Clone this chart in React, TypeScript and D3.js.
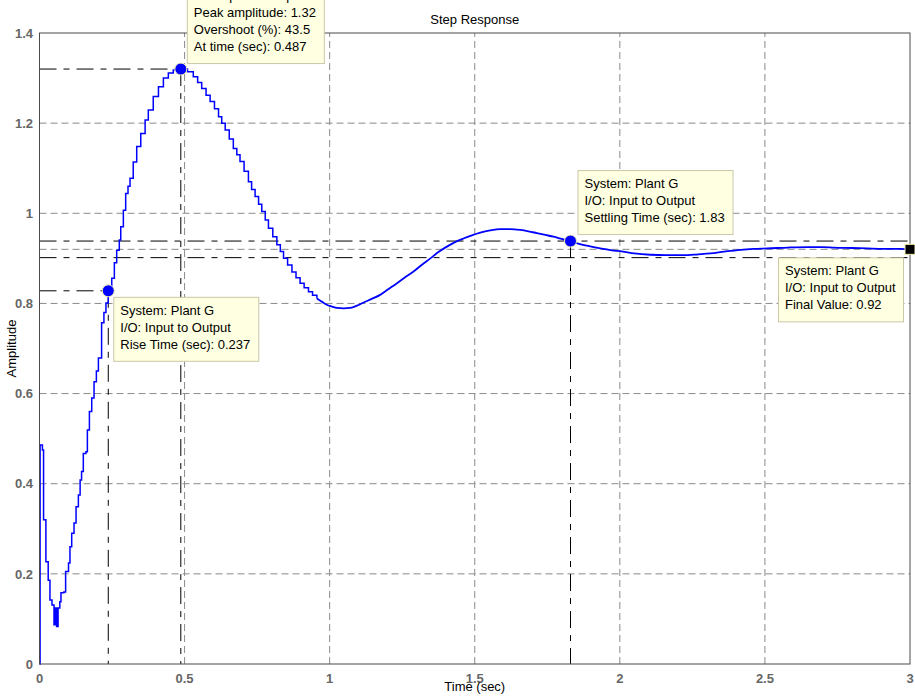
import React, { useEffect, useRef } from "react";
import * as d3 from "d3";

const W = 915;
const H = 697;

const xTicks = [0, 0.5, 1, 1.5, 2, 2.5, 3];
const xTickLabels = ["0", "0.5", "1", "1.5", "2", "2.5", "3"];
const yTicks = [0, 0.2, 0.4, 0.6, 0.8, 1, 1.2, 1.4];
const yTickLabels = ["0", "0.2", "0.4", "0.6", "0.8", "1", "1.2", "1.4"];

// Sampled step response of Plant G: [time (sec), amplitude]
const response: [number, number][] = [
  [0, 0], [0.002, 0.486], [0.01, 0.475], [0.014, 0.32], [0.022, 0.227],
  [0.03, 0.186], [0.036, 0.142], [0.043, 0.131], [0.05, 0.087], [0.054, 0.124],
  [0.059, 0.083], [0.064, 0.124], [0.07, 0.138], [0.074, 0.158], [0.084, 0.16],
  [0.09, 0.205], [0.1, 0.224], [0.105, 0.26], [0.111, 0.29], [0.119, 0.313],
  [0.126, 0.349], [0.134, 0.375], [0.14, 0.408], [0.145, 0.427], [0.151, 0.467],
  [0.16, 0.471], [0.165, 0.519], [0.172, 0.56], [0.18, 0.59], [0.188, 0.626],
  [0.196, 0.65], [0.203, 0.679], [0.214, 0.757], [0.222, 0.78], [0.229, 0.801],
  [0.237, 0.828], [0.249, 0.856], [0.258, 0.89], [0.266, 0.918], [0.275, 0.941],
  [0.28, 0.97], [0.289, 1.007], [0.297, 1.044], [0.305, 1.06], [0.312, 1.078],
  [0.323, 1.114], [0.335, 1.148], [0.349, 1.177], [0.364, 1.207], [0.375, 1.229],
  [0.392, 1.259], [0.41, 1.281], [0.427, 1.3], [0.444, 1.311], [0.461, 1.318],
  [0.487, 1.32], [0.51, 1.314], [0.53, 1.303], [0.545, 1.29], [0.559, 1.277],
  [0.574, 1.262], [0.588, 1.248], [0.603, 1.232], [0.617, 1.214], [0.628, 1.2],
  [0.64, 1.185], [0.654, 1.165], [0.668, 1.144], [0.68, 1.13], [0.691, 1.115],
  [0.705, 1.093], [0.72, 1.07], [0.731, 1.053], [0.743, 1.037], [0.755, 1.02],
  [0.766, 1.004], [0.778, 0.985], [0.789, 0.967], [0.804, 0.948], [0.818, 0.93],
  [0.83, 0.915], [0.841, 0.9], [0.855, 0.885], [0.87, 0.87], [0.884, 0.857],
  [0.898, 0.845], [0.912, 0.835], [0.927, 0.826], [0.941, 0.818], [0.956, 0.811],
  [0.973, 0.804], [0.99, 0.797], [1.008, 0.793], [1.025, 0.79], [1.048, 0.789],
  [1.071, 0.79], [1.094, 0.795], [1.117, 0.802], [1.145, 0.81], [1.174, 0.819],
  [1.203, 0.832], [1.232, 0.845], [1.26, 0.858], [1.289, 0.871], [1.318, 0.886],
  [1.347, 0.9], [1.375, 0.914], [1.404, 0.926], [1.432, 0.936], [1.461, 0.944],
  [1.49, 0.951], [1.519, 0.957], [1.553, 0.962], [1.588, 0.965], [1.622, 0.965],
  [1.657, 0.963], [1.685, 0.96], [1.714, 0.956], [1.743, 0.952], [1.772, 0.948],
  [1.8, 0.943], [1.83, 0.938], [1.86, 0.932], [1.887, 0.928], [1.933, 0.922],
  [1.979, 0.917], [2.0, 0.916], [2.05, 0.911], [2.105, 0.908], [2.16, 0.907],
  [2.22, 0.907], [2.27, 0.909], [2.312, 0.911], [2.36, 0.915], [2.416, 0.919],
  [2.46, 0.921], [2.508, 0.922], [2.58, 0.924], [2.646, 0.925], [2.7, 0.925],
  [2.737, 0.924], [2.8, 0.923], [2.852, 0.922], [2.91, 0.921], [2.967, 0.921],
  [3.0, 0.92],
];

// Step-response characteristics
const peakTime = 0.487;
const peakAmplitude = 1.32;
const overshootPct = 43.5;
const riseTime = 0.237;
const riseAmplitude = 0.828;
const settlingTime = 1.83;
const finalValue = 0.92;
const settlingBand = [0.98, 1.02];

// samples before this time are drawn as a zero-order-hold staircase
const holdUntil = 0.956;

const FONT = "'Liberation Sans', Arial, Helvetica, sans-serif";

export default function App() {
  const ref = useRef<SVGSVGElement>(null);

  useEffect(() => {
    const svg = d3.select(ref.current);
    svg.selectAll("*").remove();

    const x = d3.scaleLinear().domain([0, 3]).range([39.5, 910]);
    const y = d3.scaleLinear().domain([0, 1.4]).range([664, 33]);
    const [x0, x1] = x.range();
    const [y0, y1] = y.range();

    const gridColor = "#8a8a8a";
    const gridDash = "7,4";
    const charDash = "17,7,6,7";

    // axes background
    svg.append("rect").attr("x", x0).attr("y", y1).attr("width", x1 - x0).attr("height", y0 - y1).attr("fill", "#fff");

    // grid
    const grid = svg.append("g").attr("stroke", gridColor).attr("stroke-dasharray", gridDash).attr("stroke-width", 1);
    xTicks.slice(1, -1).forEach((t) => {
      grid.append("line").attr("x1", x(t)).attr("x2", x(t)).attr("y1", y0).attr("y2", y1);
    });
    yTicks.slice(1, -1).forEach((t) => {
      grid.append("line").attr("x1", x0).attr("x2", x1).attr("y1", y(t)).attr("y2", y(t));
    });

    // final value reference line
    svg.append("line").attr("x1", x0).attr("x2", x1).attr("y1", y(finalValue)).attr("y2", y(finalValue))
      .attr("stroke", gridColor).attr("stroke-dasharray", gridDash);

    // characteristic guide lines
    const guides = svg.append("g").attr("stroke", "#000").attr("stroke-dasharray", charDash).attr("stroke-width", 1);
    settlingBand.forEach((f) => {
      guides.append("line").attr("x1", x0).attr("x2", x1).attr("y1", y(finalValue * f)).attr("y2", y(finalValue * f));
    });
    const hv = (t: number, v: number) => {
      guides.append("line").attr("x1", x0).attr("x2", x(t)).attr("y1", y(v)).attr("y2", y(v));
      guides.append("line").attr("x1", x(t)).attr("x2", x(t)).attr("y1", y(v)).attr("y2", y0);
    };
    hv(peakTime, peakAmplitude);
    hv(riseTime, riseAmplitude);
    guides.append("line").attr("x1", x(settlingTime)).attr("x2", x(settlingTime))
      .attr("y1", y(finalValue * settlingBand[1])).attr("y2", y0);

    // response curve: staircase for the fast part, continuous for the slow tail
    const early = response.filter((d) => d[0] <= holdUntil);
    const late = response.filter((d) => d[0] >= holdUntil);
    const stepLine = d3.line<[number, number]>().x((d) => x(d[0])).y((d) => y(d[1])).curve(d3.curveStepAfter);
    const tailLine = d3.line<[number, number]>().x((d) => x(d[0])).y((d) => y(d[1])).curve(d3.curveMonotoneX);
    svg.append("path").datum(early).attr("d", stepLine).attr("fill", "none")
      .attr("stroke", "#0000ff").attr("stroke-width", 1.5);
    svg.append("path").datum(late).attr("d", tailLine).attr("fill", "none")
      .attr("stroke", "#0000ff").attr("stroke-width", 1.8);

    // axes box
    svg.append("rect").attr("x", x0).attr("y", y1).attr("width", x1 - x0).attr("height", y0 - y1)
      .attr("fill", "none").attr("stroke", "#4a4a4a").attr("stroke-width", 1);

    // tick labels
    const tickStyle = (s: any) => s.attr("font-family", FONT).attr("font-size", 13).attr("font-weight", "bold").attr("fill", "#666");
    xTicks.forEach((t, i) => {
      svg.append("text").attr("x", x(t)).attr("y", 683).attr("text-anchor", "middle").text(xTickLabels[i]).call(tickStyle);
    });
    yTicks.forEach((t, i) => {
      svg.append("text").attr("x", 33).attr("y", y(t)).attr("dy", "0.36em").attr("text-anchor", "end").text(yTickLabels[i]).call(tickStyle);
    });

    // titles
    svg.append("text").attr("x", (x0 + x1) / 2).attr("y", 24).attr("text-anchor", "middle")
      .attr("font-family", FONT).attr("font-size", 13).attr("fill", "#000").text("Step Response");
    svg.append("text").attr("x", (x0 + x1) / 2).attr("y", 691).attr("text-anchor", "middle")
      .attr("font-family", FONT).attr("font-size", 13).attr("fill", "#000").text("Time (sec)");
    svg.append("text").attr("transform", `translate(16,${(y0 + y1) / 2}) rotate(-90)`).attr("text-anchor", "middle")
      .attr("font-family", FONT).attr("font-size", 13).attr("fill", "#000").text("Amplitude");

    // markers
    const dot = (t: number, v: number) =>
      svg.append("circle").attr("cx", x(t)).attr("cy", y(v)).attr("r", 6)
        .attr("fill", "#0000ff").attr("stroke", "#f4f0b0").attr("stroke-width", 1);
    dot(peakTime, peakAmplitude);
    dot(riseTime, riseAmplitude);
    dot(settlingTime, finalValue * settlingBand[1]);
    svg.append("rect").attr("x", x(3) - 5).attr("y", y(finalValue) - 5).attr("width", 10).attr("height", 10)
      .attr("fill", "#000").attr("stroke", "#f4f0b0").attr("stroke-width", 1);

    // data tips
    const tip = (lines: string[], ax: number, ay: number, anchor: "tl" | "bl" | "tr") => {
      const g = svg.append("g");
      const lh = 17;
      const rect = g.append("rect").attr("fill", "#ffffe1").attr("stroke", "#c9c7a8").attr("stroke-width", 1);
      const texts = lines.map((s) =>
        g.append("text").attr("font-family", FONT).attr("font-size", 13).attr("fill", "#000").text(s));
      const widths = texts.map((tx) => (tx.node() as SVGTextElement).getComputedTextLength());
      const w = Math.ceil(d3.max(widths) || 0) + 14;
      const h = lines.length * lh + 13;
      let left = ax;
      let top = ay;
      if (anchor === "bl") top = ay - h;
      if (anchor === "tr") left = ax - w;
      rect.attr("x", left + 0.5).attr("y", top + 0.5).attr("width", w).attr("height", h);
      texts.forEach((tx, i) => tx.attr("x", left + 7).attr("y", top + 18 + i * lh));
    };

    tip(["System: Plant G", "I/O: Input to Output", `Peak amplitude: ${peakAmplitude}`,
      `Overshoot (%): ${overshootPct}`, `At time (sec): ${peakTime}`],
      x(peakTime) + 6, y(peakAmplitude) - 6, "bl");
    tip(["System: Plant G", "I/O: Input to Output", `Rise Time (sec): ${riseTime}`],
      x(riseTime) + 5, y(riseAmplitude) + 6, "tl");
    tip(["System: Plant G", "I/O: Input to Output", `Settling Time (sec): ${settlingTime}`],
      x(settlingTime) + 7, y(finalValue * settlingBand[1]) - 7, "bl");
    tip(["System: Plant G", "I/O: Input to Output", `Final Value: ${finalValue}`],
      x(3) - 7, y(finalValue) + 8, "tr");
  }, []);

  return (
    <svg ref={ref} width={W} height={H}
      style={{ position: "absolute", left: 0, top: 0, background: "#fff", display: "block" }} />
  );
}
